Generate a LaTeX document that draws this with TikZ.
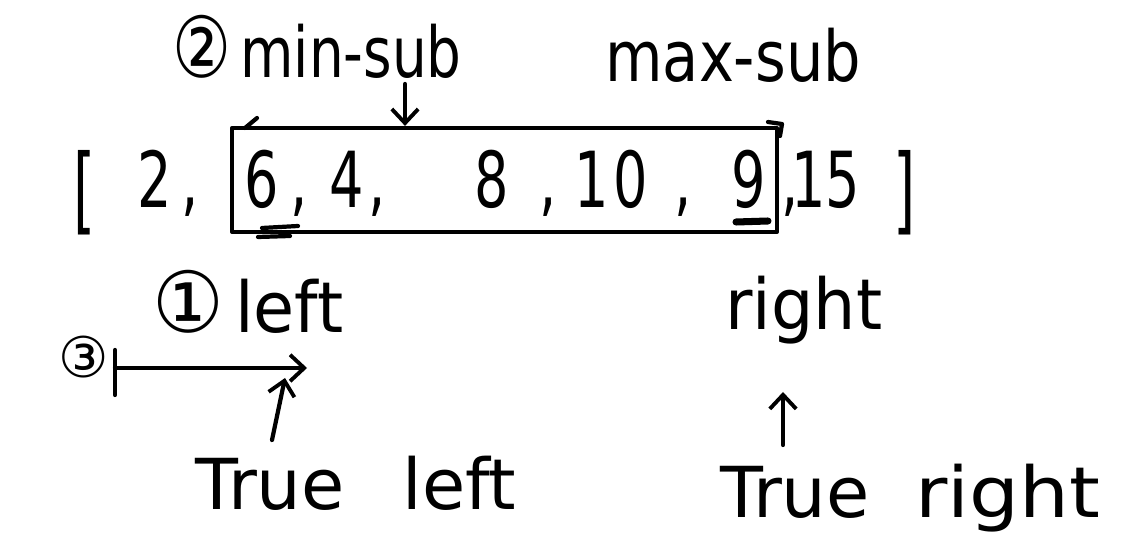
\documentclass[tikz,border=0pt]{standalone}
\usepackage{fontspec}
\usepackage{graphicx}
\setmainfont{DejaVu Sans}
\usetikzlibrary{arrows.meta}
\newcommand{\hnar}[2][0.8]{\scalebox{#1}[1]{#2}}
\newcommand{\circnum}[1]{{\fontsize{48}{50}\selectfont #1}}
\tikzset{
  lbl/.style={inner sep=0pt, anchor=base west, font=\fontsize{40}{44}\selectfont},
  num/.style={inner sep=0pt, anchor=base, font=\fontsize{44}{48}\selectfont},
  brk/.style={inner sep=0pt, anchor=base, font=\fontsize{54}{58}\selectfont},
  pen/.style={line width=2.4pt, line cap=round, line join=round},
  arr/.style={pen, -{Straight Barb[length=8pt,width=15pt,line width=2.2pt]}}
}
\begin{document}
\begin{tikzpicture}[x=0.02cm,y=-0.02cm]
\fill[white] (0,0) rectangle (1130,560);
\useasboundingbox (0,0) rectangle (1130,560);
% top labels
\node[lbl] (minsub) at (172,78) {\hnar[0.78]{\circnum{②}\,min-sub}};
\node[lbl] (maxsub) at (605,82) {\hnar[0.84]{max-sub}};
% array
\node[brk] (lb) at (85,223) {\hnar[0.6]{[}};
\node[num] (n2) at (155,208) {\hnar[0.7]{2}};
\node[num] (c1) at (190,208) {\hnar[0.7]{,}};
\node[num] (n6) at (262,208) {\hnar[0.7]{6}};
\node[num] (c2) at (299,208) {\hnar[0.7]{,}};
\node[num] (n4) at (347,208) {\hnar[0.7]{4}};
\node[num] (c3) at (377,208) {\hnar[0.7]{,}};
\node[num] (n8) at (492,208) {\hnar[0.7]{8}};
\node[num] (c4) at (548,208) {\hnar[0.7]{,}};
\node[num] (n10) at (611,208) {\hnar[0.7]{1\kern4pt0}};
\node[num] (c5) at (683,208) {\hnar[0.7]{,}};
\node[num] (n9) at (749,208) {\hnar[0.7]{9}};
\node[num] (c6) at (790,208) {\hnar[0.7]{,}};
\node[num] (n15) at (826,208) {\hnar[0.7]{15}};
\node[brk] (rb) at (905,223) {\hnar[0.6]{]}};
% box
\node[pen, draw, inner sep=0pt, minimum width=10.9cm, minimum height=2.08cm] (box) at (504.5,180) {};
\draw[pen] (245,128) -- (257,118);
\draw[pen] (768,122) -- (782,124) -- (780,136);
% underlines
\draw[pen] (262,228) -- (298,226);
\draw[pen] (258,237) -- (290,236);
\draw[line width=4pt, line cap=round] (736,222) -- (768,221);
% arrow min-sub to box
\coordinate (m1) at (405,84);
\draw[arr] (m1) -- (m1 |- box.north);
% left / right
\node[lbl] (left) at (152,333) {\hnar[0.95]{\circnum{①}\,left}};
\node[lbl] (right) at (725,330) {\hnar[0.95]{right}};
% step 3
\node[lbl, font=\fontsize{32}{34}\selectfont] (three) at (58,378) {③};
\coordinate (t1) at (115,350);
\coordinate (t2) at (115,395);
\draw[pen] (t1) -- (t2);
\coordinate (s) at (115,368);
\coordinate (e) at (307,368);
\draw[arr] (s) -- (e);
% true labels
\node[lbl] (trueleft) at (195,510) {True\hspace{33pt}left};
\node[lbl] (trueright) at (720,518) {True\hspace{26pt}\hnar[1.12]{right}};
\coordinate (u1) at (272,440);
\coordinate (u1t) at (285,378);
\draw[arr] (u1) -- (u1t);
\coordinate (u2) at (783,445);
\coordinate (u2t) at (783,392);
\draw[arr] (u2) -- (u2t);
\end{tikzpicture}
\end{document}
